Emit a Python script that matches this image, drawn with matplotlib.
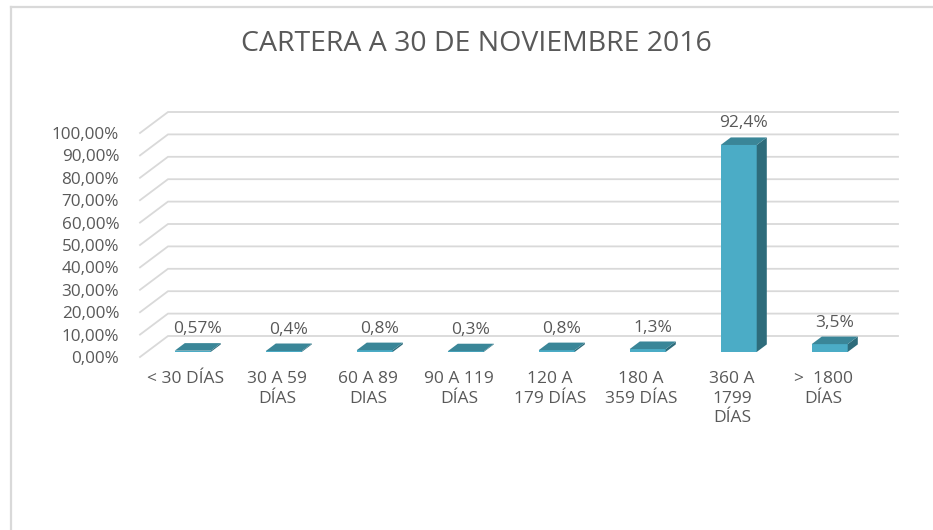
import matplotlib
matplotlib.use("Agg")
import matplotlib.pyplot as plt
from matplotlib.patches import Polygon
from matplotlib.lines import Line2D
import numpy as np

categories = ["< 30 DÍAS", "30 A 59\nDÍAS", "60 A 89\nDIAS", "90 A 119\nDÍAS",
              "120 A\n179 DÍAS", "180 A\n359 DÍAS", "360 A\n1799\nDÍAS", ">  1800\nDÍAS"]
values = [0.57, 0.4, 0.8, 0.3, 0.8, 1.3, 92.4, 3.5]
value_labels = ["0,57%", "0,4%", "0,8%", "0,3%", "0,8%", "1,3%", "92,4%", "3,5%"]
yticks = [0, 10, 20, 30, 40, 50, 60, 70, 80, 90, 100]
ytick_labels = ["0,00%", "10,00%", "20,00%", "30,00%", "40,00%", "50,00%",
                "60,00%", "70,00%", "80,00%", "90,00%", "100,00%"]
title = "CARTERA A 30 DE NOVIEMBRE 2016"

plt.rcParams['font.family'] = ['Open Sans', 'DejaVu Sans']
TEXT = '#595959'
GRID = '#d9d9d9'
FRONT = '#4BACC6'
SIDE = '#2E6C7B'
TOP = '#3A8698'

W, H = 933, 530
fig = plt.figure(figsize=(W / 100, H / 100), dpi=100)

# axes in pixel box
L, R, T, B = 140, 900, 105, 360
ax = fig.add_axes([L / W, (H - B) / H, (R - L) / W, (B - T) / H])
PX_CAT = 91.0
PX_PCT = 2.24
X0PIX = 186.0
Y0PIX = 357.0
ax.set_xlim((L - X0PIX) / PX_CAT, (R - X0PIX) / PX_CAT)
ax.set_ylim((Y0PIX - B) / PX_PCT, (Y0PIX - T) / PX_PCT)

DX = 28 / PX_CAT
DY = 21 / PX_PCT


def proj(x, y, z):
    return x + z * DX, y + z * DY


# walls / gridlines
xl = (L - X0PIX) / PX_CAT
xr = (898 - 28 - X0PIX) / PX_CAT
for v in yticks:
    p0 = proj(xl, v, 0)
    p1 = proj(xl, v, 1)
    p2 = proj(xr, v, 1)
    ax.plot([p0[0], p1[0], p2[0]], [p0[1], p1[1], p2[1]], color=GRID, lw=1.3,
            clip_on=False, zorder=1, solid_joinstyle='miter')

# bars
z0, z1 = 0.24, 0.60
w = 18 / PX_CAT
xs = np.arange(len(values))
ax.bar(xs + z0 * DX, values, width=2 * w, bottom=z0 * DY, color=FRONT,
       edgecolor='none', zorder=3)
for i, v in enumerate(values):
    top = [proj(i - w, v, z0), proj(i + w, v, z0), proj(i + w, v, z1), proj(i - w, v, z1)]
    side = [proj(i + w, 0, z0), proj(i + w, v, z0), proj(i + w, v, z1), proj(i + w, 0, z1)]
    ax.add_patch(Polygon(side, closed=True, facecolor=SIDE, edgecolor='none', zorder=3))
    ax.add_patch(Polygon(top, closed=True, facecolor=TOP, edgecolor='none', zorder=4))
    lx, ly = proj(i, v, (z0 + z1) / 2)
    ax.annotate(value_labels[i], (lx, ly), xytext=(0, 7), textcoords='offset points',
                ha='center', va='bottom', fontsize=12.5, color=TEXT, zorder=5)

ax.set_yticks(yticks)
ax.set_yticklabels(ytick_labels)
ax.set_xticks(xs)
ax.set_xticklabels(categories, linespacing=1.3)
ax.tick_params(axis='y', length=0, pad=15, labelsize=12.3, labelcolor=TEXT)
ax.tick_params(axis='x', length=0, pad=8, labelsize=12.5, labelcolor=TEXT)
for s in ax.spines.values():
    s.set_visible(False)
ax.patch.set_alpha(0)

fig.text(476 / W, 1 - 44 / H, title, ha='center', va='center', fontsize=20.5, color=TEXT)

# outer frame
fig.add_artist(Line2D([10.5 / W, 10.5 / W], [0, 1 - 6.5 / H], color=GRID, lw=1.6,
                      transform=fig.transFigure))
fig.add_artist(Line2D([10.5 / W, 1], [1 - 6.5 / H, 1 - 6.5 / H], color=GRID, lw=1.6,
                      transform=fig.transFigure))

fig.savefig("out.png", dpi=100)
